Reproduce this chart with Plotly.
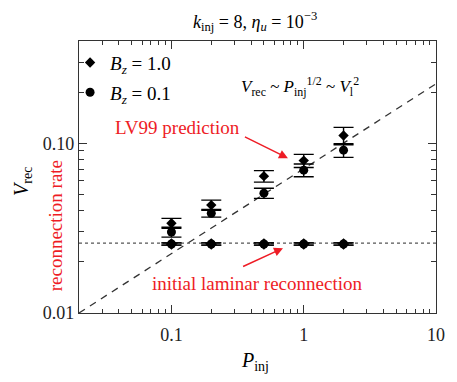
import math
import plotly.graph_objects as go

# ---- data ----
p_inj = [0.1, 0.2, 0.5, 1.0, 2.0]
v_bz10 = [0.0338, 0.0432, 0.064, 0.079, 0.111]
err_bz10 = [0.0023, 0.003, 0.005, 0.007, 0.013]
v_bz01 = [0.030, 0.0387, 0.0508, 0.0694, 0.091]
err_bz01 = [0.002, 0.002, 0.0035, 0.006, 0.0085]
v_laminar_bz10 = [0.0255, 0.0255, 0.0255, 0.0255, 0.0255]
v_laminar_bz01 = [0.0255, 0.0255, 0.0255, 0.0255, 0.0255]
err_laminar = [0.0004, 0.0004, 0.0004, 0.0004, 0.0004]
lv99_p = [0.02, 10.0]
lv99_v = [0.01, 0.224]
laminar_p = [0.02, 10.0]
laminar_v = [0.0258, 0.0258]

x_tickvals = [0.1, 1, 10]
x_ticktext = ["0.1", "1", "10"]
y_tickvals = [0.01, 0.1]
y_ticktext = ["0.01", "0.10"]
x_minor = [0.03, 0.04, 0.05, 0.06, 0.07, 0.08, 0.09,
           0.2, 0.3, 0.4, 0.5, 0.6, 0.7, 0.8, 0.9,
           2, 3, 4, 5, 6, 7, 8, 9]
y_minor = [0.02, 0.03, 0.04, 0.05, 0.06, 0.07, 0.08, 0.09, 0.2, 0.3]

FONT = "Liberation Serif, Times New Roman, serif"
RED = "#ee1c25"

fig = go.Figure()

fig.add_trace(go.Scatter(x=lv99_p, y=lv99_v, mode="lines", showlegend=False,
                         line=dict(color="#333333", width=1.3, dash="7px,6px")))
fig.add_trace(go.Scatter(x=laminar_p, y=laminar_v, mode="lines", showlegend=False,
                         line=dict(color="#555555", width=1.1, dash="dot")))

eb = dict(type="data", thickness=1.4, width=10, color="black")

fig.add_trace(go.Scatter(x=p_inj, y=v_laminar_bz10, mode="markers", showlegend=False,
                         marker=dict(symbol="diamond", size=9, color="black"),
                         error_y=dict(array=err_laminar, **eb)))
fig.add_trace(go.Scatter(x=p_inj, y=v_laminar_bz01, mode="markers", showlegend=False,
                         marker=dict(symbol="circle", size=9, color="black"),
                         error_y=dict(array=err_laminar, **eb)))

fig.add_trace(go.Scatter(x=p_inj, y=v_bz10, mode="markers",
                         name="<i>B<sub>z</sub></i> = 1.0", legendgroup="a",
                         marker=dict(symbol="diamond", size=8, color="black"),
                         error_y=dict(array=err_bz10, **eb)))
fig.add_trace(go.Scatter(x=p_inj, y=v_bz01, mode="markers",
                         name="<i>B<sub>z</sub></i> = 0.1", legendgroup="b",
                         marker=dict(symbol="circle", size=9, color="black"),
                         error_y=dict(array=err_bz01, **eb)))

axis_common = dict(type="log", showline=True, linecolor="#333333", linewidth=1.3,
                   mirror="ticks", ticks="inside", ticklen=8, tickwidth=1.2,
                   tickcolor="#333333", showgrid=False, zeroline=False,
                   tickfont=dict(family=FONT, size=18, color="#222222"))

# the page body adds an 8px offset; compensate in size and margins
fig.update_layout(
    width=449, height=374,
    margin=dict(l=71, r=16, t=33, b=69),
    paper_bgcolor="white", plot_bgcolor="white",
    font=dict(family=FONT, size=16, color="black"),
    xaxis=dict(range=[math.log10(0.02), 1], tickvals=x_tickvals, ticktext=x_ticktext,
               ticklabelstandoff=5,
               minor=dict(tickvals=x_minor, ticks="inside", ticklen=4, tickwidth=1,
                          tickcolor="#333333"),
               **axis_common),
    yaxis=dict(range=[-2, math.log10(0.4)], tickvals=y_tickvals, ticktext=y_ticktext,
               minor=dict(tickvals=y_minor, ticks="inside", ticklen=5, tickwidth=1,
                          tickcolor="#333333"),
               **axis_common),
    legend=dict(x=-0.025, y=0.99, xanchor="left", yanchor="top",
                bgcolor="rgba(0,0,0,0)", traceorder="grouped", tracegroupgap=2,
                font=dict(family=FONT, size=19, color="black"), itemwidth=30),
    showlegend=True,
)

ctr = dict(xanchor="center", yanchor="middle", showarrow=False)
ann = []
ann.append(dict(xref="paper", yref="paper", x=0.494, y=1.07,
                text="<i>k</i><sub>inj</sub> = 8, <i>η<sub>u</sub></i> = 10<sup>−3</sup>",
                font=dict(family=FONT, size=18, color="black"), **ctr))
ann.append(dict(xref="paper", yref="paper", x=-0.16, y=0.485, textangle=-90,
                text="<i>V</i><sub>rec</sub>",
                font=dict(family=FONT, size=20, color="black"), **ctr))
ann.append(dict(xref="paper", yref="paper", x=-0.0635, y=0.32, textangle=-90,
                text="reconnection rate",
                font=dict(family=FONT, size=19, color=RED), **ctr))
ann.append(dict(xref="paper", yref="paper", x=0.494, y=-0.18,
                text="<i>P</i><sub>inj</sub>",
                font=dict(family=FONT, size=20, color="black"), **ctr))
ann.append(dict(xref="x", yref="y", x=math.log10(0.93), y=math.log10(0.215),
                text="<i>V</i><sub>rec</sub> ~ <i>P</i><sub>inj</sub><sup>1/2</sup> ~ <i>V</i><sub>l</sub><sup>2</sup>",
                font=dict(family=FONT, size=17, color="black"), **ctr))
ann.append(dict(xref="x", yref="y", x=math.log10(0.111), y=math.log10(0.124),
                text="LV99 prediction",
                font=dict(family=FONT, size=19, color=RED), **ctr))
ann.append(dict(xref="x", yref="y", x=math.log10(0.76), y=math.log10(0.0816),
                axref="x", ayref="y", ax=math.log10(0.35), ay=math.log10(0.11),
                text="", showarrow=True, arrowhead=2, arrowsize=1.2, arrowwidth=1.5,
                arrowcolor=RED))
ann.append(dict(xref="x", yref="y", x=math.log10(0.446), y=math.log10(0.015),
                text="initial laminar reconnection",
                font=dict(family=FONT, size=19, color=RED), **ctr))
ann.append(dict(xref="x", yref="y", x=math.log10(0.697), y=math.log10(0.0241),
                axref="x", ayref="y", ax=math.log10(0.339), ay=math.log10(0.0186),
                text="", showarrow=True, arrowhead=2, arrowsize=1.2, arrowwidth=1.5,
                arrowcolor=RED))
fig.update_layout(annotations=ann)

fig.write_html("out.html")
